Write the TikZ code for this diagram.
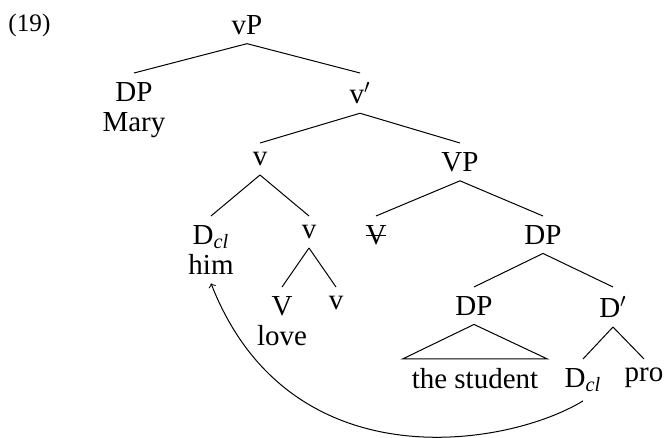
\documentclass[tikz,border=0pt]{standalone}
\usepackage{fontspec}
\setmainfont{Liberation Serif}
\newcommand\struckout[1]{\setbox0\hbox{#1}\rlap{#1}\rule[0.45\ht0]{\wd0}{0.5pt}}
\newcommand\clitic{D\textsubscript{\itshape cl}}
\usetikzlibrary{positioning}
\begin{document}
\begin{tikzpicture}[x=0.5pt,y=-0.5pt,line width=0.5pt,
font=\fontsize{14.5}{16}\selectfont,
cat/.style={anchor=north,inner sep=4.6pt,outer sep=0pt},
word/.style={anchor=base,inner sep=4.6pt,outer sep=0pt},
exnum/.style={anchor=base west,inner sep=0pt,font=\fontsize{12.6}{14}\selectfont}]
\useasboundingbox (0,0) rectangle (665,438);

\node[exnum] (ex) at (8,32) {(19)};

% categories, row by row
\node[cat] (vp) at (247,6) {vP};
\node[cat] (dpa) at (134,73) {DP};
\node[cat] (vbar) at (360,73) {v$'$};
\node[cat] (vhi) at (260,143) {v};
\node[cat] (vpp) at (460,143) {VP};
\node[cat] (dcla) at (211,216) {\clitic};
\node[cat] (vlo) at (309,216) {v};
\node[cat] (vcopy) at (376,216) {\struckout{V}};
\node[cat] (dpb) at (543,216) {DP};
\node[cat] (vroot) at (282,287) {V};
\node[cat] (vaff) at (336,287) {v};
\node[cat] (dpc) at (474,287) {DP};
\node[cat] (dbar) at (613,287) {D$'$};
\node[cat] (stud) at (475,359) {the student};
\node[cat] (dclb) at (583,359) {\clitic};
\node[cat] (pro) at (644,359) {pro};

% words under their heads
\node[word] (mary) at ([yshift=-15pt]dpa.base) {Mary};
\node[word] (him) at ([yshift=-15pt]dcla.base) {him};
\node[word] (love) at ([yshift=-15pt]vroot.base) {love};

% branches
\draw (vp.south) -- (dpa.north);
\draw (vp.south) -- (vbar.north);
\draw (vbar.south) -- (vhi.north);
\draw (vbar.south) -- (vpp.north);
\draw (vhi.south) -- (dcla.north);
\draw (vhi.south) -- (vlo.north);
\draw (vlo.south) -- (vroot.north);
\draw (vlo.south) -- (vaff.north);
\draw (vpp.south) -- (vcopy.north);
\draw (vpp.south) -- (dpb.north);
\draw (dpb.south) -- (dpc.north);
\draw (dpb.south) -- (dbar.north);
\draw (dpc.south) -- (stud.north west) -- (stud.north east) -- cycle;
\draw (dbar.south) -- (dclb.north);
\draw (dbar.south) -- (pro.north);

% movement
\draw[->] (dclb.south) .. controls +(-73,45) and +(79,202) .. (him.south);

\end{tikzpicture}
\end{document}
